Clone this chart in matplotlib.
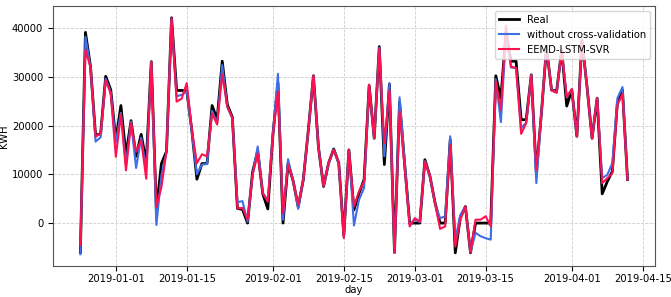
import matplotlib
matplotlib.use("Agg")
import matplotlib.pyplot as plt
import matplotlib.dates as mdates
import pandas as pd

days = pd.date_range("2018-12-25", "2019-04-12", freq="D")

real = [-6000, 39100, 32100, 18000, 18300, 30100, 27300, 17000, 24100, 14000,
        21000, 13700, 18200, 12500, 33100, 2700, 12200, 14700, 42100, 27200,
        27200, 27100, 19000, 9000, 12200, 12200, 24100, 21300, 33200, 24300,
        21700, 3000, 2800, 0, 10500, 14800, 6000, 2900, 18100, 28700,
        0, 12300, 8600, 3300, 8900, 19100, 30200, 15500, 7500, 12300,
        15200, 12300, -2500, 15000, 2700, 6100, 8900, 28200, 17400, 36200,
        12000, 28500, -6000, 24900, 12200, 0, 0, 0, 13000, 9600,
        4200, 0, 0, 17100, -6100, 1200, 3400, -6100, 0, 0,
        0, 0, 30200, 25600, 39000, 33200, 33200, 21200, 21200, 30400,
        10200, 22500, 36000, 27300, 27000, 35500, 24000, 27300, 17800, 37500,
        28000, 17400, 25600, 6000, 8500, 10600, 24800, 27300, 8900]

no_cv = [-6400, 38200, 32000, 16700, 17600, 29600, 26800, 16500, 22600, 12000,
         20800, 11300, 17500, 11000, 33000, -400, 9800, 14600, 41800, 26000,
         26300, 27000, 18500, 10000, 12000, 12100, 23000, 20500, 32400, 23800,
         21500, 4300, 4500, 300, 10000, 15700, 6200, 4700, 18300, 30600,
         700, 13100, 8500, 2900, 8900, 19000, 30100, 15700, 7600, 12200,
         15100, 12200, -2800, 15100, -500, 4800, 7200, 28000, 17300, 36000,
         13700, 28700, -6100, 25800, 12700, -300, 700, 200, 12700, 9600,
         4000, 1000, 1400, 17800, -3400, 1700, 3300, -6000, -2000, -2700,
         -3100, -3400, 29500, 20700, 38500, 31900, 31800, 19500, 20600, 30300,
         8200, 22400, 36000, 27300, 26800, 35500, 25800, 27300, 17900, 37500,
         28000, 17500, 25600, 9200, 9900, 12300, 25600, 27900, 8900]

eemd = [-4500, 35500, 32000, 17700, 18400, 29300, 26500, 13600, 22300, 10800,
        20500, 14600, 17000, 9100, 33100, 3300, 7400, 14700, 42000, 24900,
        25500, 28700, 19200, 12300, 14100, 13700, 22500, 20200, 30500, 23900,
        21500, 3000, 3100, 700, 9900, 14300, 6100, 4400, 18000, 27000,
        2000, 12000, 8700, 3800, 8900, 19100, 30300, 15400, 7600, 12400,
        15000, 12400, -3100, 15000, 3400, 6500, 8500, 28400, 17400, 35800,
        16400, 27300, -6100, 22900, 11500, -700, 1000, 300, 12600, 9700,
        4100, -1200, -700, 16000, -4800, 700, 3400, -6000, 700, 700,
        1400, -700, 29000, 23200, 40500, 32100, 31800, 18300, 20500, 30300,
        10900, 22600, 36000, 27200, 26700, 35500, 25900, 27500, 17800, 37500,
        28000, 17300, 25600, 8200, 9200, 10200, 24200, 26500, 8900]

plt.rcParams["font.size"] = 7.2

fig, ax = plt.subplots(figsize=(6.71, 2.97), dpi=100)
fig.subplots_adjust(left=0.079, right=0.976, top=0.98, bottom=0.104)

ax.plot(days, real, color="black", linewidth=2, label="Real")
ax.plot(days, no_cv, color="#3f6fe6", linewidth=1.5, label="without cross-validation")
ax.plot(days, eemd, color="#ff1050", linewidth=1.5, label="EEMD-LSTM-SVR")

ax.xaxis.set_major_locator(mdates.DayLocator(bymonthday=[1, 15]))
ax.xaxis.set_major_formatter(mdates.DateFormatter("%Y-%m-%d"))
ax.set_yticks([0, 10000, 20000, 30000, 40000])
ax.tick_params(axis="x", pad=2)
ax.grid(True, linestyle="--", color="#cccccc", linewidth=0.6)
for s in ax.spines.values():
    s.set_color("#555555")

ax.set_xlabel("day", labelpad=1)
ax.set_ylabel("KWH", labelpad=2)
ax.legend(loc="upper right", fontsize=7.2)

plt.savefig("out.png")
